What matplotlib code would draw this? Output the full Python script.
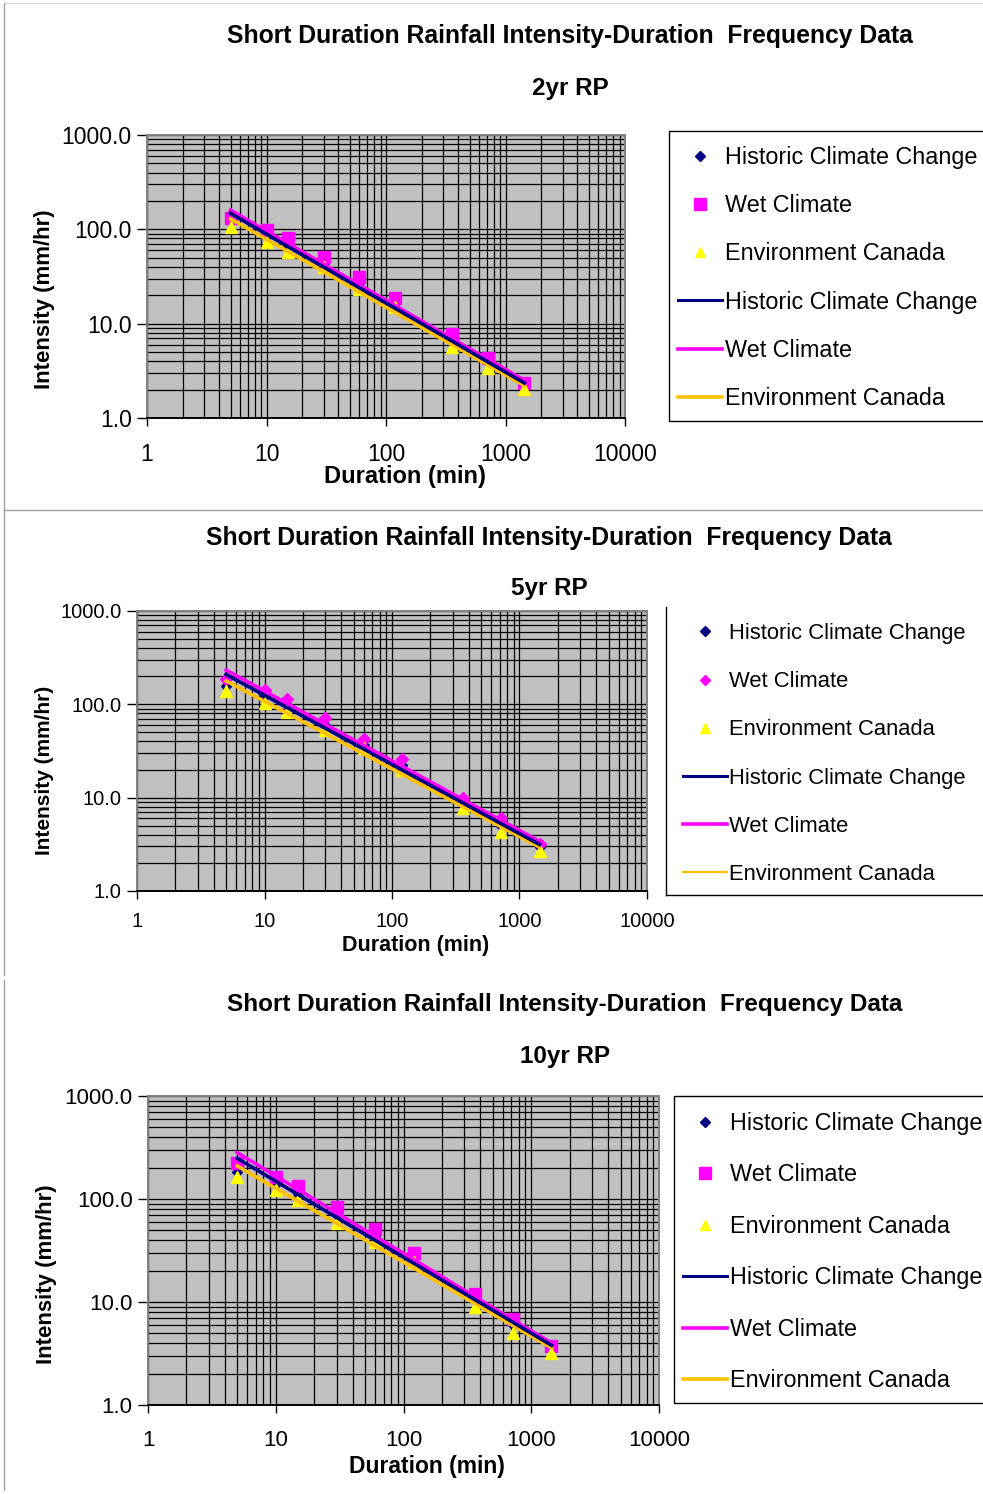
import matplotlib

matplotlib.use("Agg")
import matplotlib.pyplot as plt
from matplotlib.lines import Line2D
from matplotlib.patches import Rectangle
from matplotlib.ticker import FixedLocator, FixedFormatter, LogLocator, NullFormatter

plt.rcParams["font.family"] = ["Liberation Sans", "DejaVu Sans"]

W, H = 983, 1494

durations = [5, 10, 15, 30, 60, 120, 360, 720, 1440]
x_ticks = [1, 10, 100, 1000, 10000]
x_tick_labels = ["1", "10", "100", "1000", "10000"]
y_ticks = [1, 10, 100, 1000]
y_tick_labels = ["1.0", "10.0", "100.0", "1000.0"]

series_names = ["Historic Climate Change", "Wet Climate", "Environment Canada"]
return_periods = ["2yr RP", "5yr RP", "10yr RP"]

# observed points (mm/hr)
hist_2 = [120, 85, 68, 44, 27, 16.5, 6.8, 3.9, 2.2]
wet_2 = [132, 98, 81, 51, 31.5, 18.6, 7.8, 4.3, 2.35]
env_2 = [106, 74, 58, 40, 23.5, 15, 5.7, 3.4, 2.05]

hist_5 = [158, 122, 98, 60, 37, 22.5, 8.5, 5.0, 2.95]
wet_5 = [187, 142, 113, 70.8, 42.5, 25.9, 9.9, 6.0, 3.2]
env_5 = [139, 103, 82, 53, 34, 20, 7.7, 4.3, 2.7]

hist_10 = [184, 140, 112, 70, 44, 27, 10.5, 6.0, 3.5]
wet_10 = [222, 165, 135, 83, 51, 30, 12, 6.8, 3.7]
env_10 = [163, 122, 97, 59, 38, 24.6, 9.0, 5.0, 3.2]

# fitted IDF curves (mm/hr)
hist_2_fit = [148, 89, 66, 39.9, 24, 14.5, 6.5, 3.9, 2.35]
wet_2_fit = [160, 96, 71.4, 42.9, 25.8, 15.5, 6.9, 4.17, 2.5]
env_2_fit = [129, 78.3, 58.6, 35.6, 21.6, 13.1, 5.96, 3.62, 2.2]

hist_5_fit = [209, 125, 92.6, 55.4, 33.2, 19.8, 8.8, 5.25, 3.15]
wet_5_fit = [233, 139, 102.5, 61, 36.4, 21.7, 9.55, 5.7, 3.4]
env_5_fit = [178, 107.7, 80.3, 48.6, 29.4, 17.8, 8.0, 4.86, 2.95]

hist_10_fit = [248, 148.8, 110.3, 66.1, 39.7, 23.8, 10.6, 6.35, 3.8]
wet_10_fit = [282, 167.5, 123.5, 73.3, 43.4, 25.9, 11.3, 6.7, 4.0]
env_10_fit = [209, 127, 95.1, 57.9, 35.1, 21.4, 9.7, 5.9, 3.6]

NAVY = "#000080"
MAGENTA = "#FF00FF"
YELLOW = "#FFFF00"
GOLD = "#FFC000"
TITLE = "Short Duration Rainfall Intensity-Duration  Frequency Data"


def fx(x):
    return x / W


def fy(y):
    return 1 - y / H


def draw_panel(fig, p):
    left, top, right, bottom = p["plot"]
    ax = fig.add_axes([fx(left), fy(bottom), fx(right) - fx(left), fy(top) - fy(bottom)])
    ax.set_facecolor("#C0C0C0")
    ax.set_xscale("log")
    ax.set_yscale("log")
    ax.set_xlim(1, 10000)
    ax.set_ylim(1, 1000)

    ax.xaxis.set_major_locator(FixedLocator(x_ticks))
    ax.xaxis.set_major_formatter(FixedFormatter(x_tick_labels))
    ax.yaxis.set_major_locator(FixedLocator(y_ticks))
    ax.yaxis.set_major_formatter(FixedFormatter(y_tick_labels))
    for axis in (ax.xaxis, ax.yaxis):
        axis.set_minor_locator(LogLocator(base=10, subs=range(2, 10)))
        axis.set_minor_formatter(NullFormatter())
    ax.grid(which="both", color="black", linewidth=0.9)
    ax.set_axisbelow(True)

    ax.tick_params(which="minor", length=0)
    ax.tick_params(axis="x", which="major", direction="out", length=6, width=1,
                   pad=p["xpad"], labelsize=p["tick_size"])
    ax.tick_params(axis="y", which="major", direction="out", length=7, width=1,
                   pad=4, labelsize=p["tick_size"])
    for side, spine in ax.spines.items():
        spine.set_color("#808080")
        spine.set_linewidth(1.4)
    ax.spines["bottom"].set_color("black")

    hist, wet, env = p["points"]
    hist_fit, wet_fit, env_fit = p["fits"]
    wet_marker, wet_ms = p["wet_marker"]

    ax.plot(durations, hist, linestyle="none", marker="D", ms=5.5, color=NAVY, zorder=3)
    ax.plot(durations, wet, linestyle="none", marker=wet_marker, ms=wet_ms,
            color=MAGENTA, zorder=3)
    ax.plot(durations, env, linestyle="none", marker="^", ms=9, color=YELLOW, zorder=3)
    ax.plot(durations, env_fit, color=GOLD, lw=2.6, zorder=4)
    ax.plot(durations, wet_fit, color=MAGENTA, lw=2.6, zorder=4)
    ax.plot(durations, hist_fit, color=NAVY, lw=2.6, zorder=5)

    tx, ty = p["title_xy"]
    fig.text(fx(tx), fy(ty), TITLE, ha="center", va="center",
             fontsize=p["title_size"], fontweight="bold")
    sx, sy = p["sub_xy"]
    fig.text(fx(sx), fy(sy), p["subtitle"], ha="center", va="center",
             fontsize=17.5, fontweight="bold")
    yx, yy = p["ylabel_xy"]
    fig.text(fx(yx), fy(yy), "Intensity (mm/hr)", ha="center", va="center",
             rotation=90, fontsize=p["ylabel_size"], fontweight="bold")
    xx, xy = p["xlabel_xy"]
    fig.text(fx(xx), fy(xy), "Duration (min)", ha="center", va="center",
             fontsize=p["xlabel_size"], fontweight="bold")

    # legend: three marker entries, then three line entries
    handles = [
        Line2D([], [], linestyle="none", marker="D", ms=5, color=NAVY),
        Line2D([], [], linestyle="none", marker=wet_marker, ms=wet_ms - 1, color=MAGENTA),
        Line2D([], [], linestyle="none", marker="^", ms=7, color=YELLOW),
        Line2D([], [], color=NAVY, lw=2.2),
        Line2D([], [], color=MAGENTA, lw=2.6),
        Line2D([], [], color=GOLD, lw=p["env_legend_lw"]),
    ]
    lx, ly = p["legend_xy"]
    fig.legend(handles, series_names * 2, loc="upper left",
               bbox_to_anchor=(fx(lx), fy(ly)), frameon=False,
               borderpad=0, borderaxespad=0, handlelength=p["handle_len"],
               handletextpad=0.1, labelspacing=p["legend_spacing"],
               fontsize=p["legend_size"])

    fl, ft, fb = p["legend_frame"]
    if p["legend_full_frame"]:
        fig.patches.append(Rectangle((fx(fl), fy(fb)), fx(1010) - fx(fl), fy(ft) - fy(fb),
                                     transform=fig.transFigure, fill=False,
                                     edgecolor="black", linewidth=1.0))
    else:
        fig.add_artist(Line2D([fx(fl), fx(fl)], [fy(ft), fy(fb)], color="black", lw=1.0))
        fig.add_artist(Line2D([fx(fl), fx(W)], [fy(fb), fy(fb)], color="black", lw=1.0))


panels = [
    dict(plot=(147, 135, 625, 418), points=(hist_2, wet_2, env_2),
         fits=(hist_2_fit, wet_2_fit, env_2_fit), wet_marker=("s", 9),
         subtitle=return_periods[0], title_xy=(570, 36), sub_xy=(570, 88),
         title_size=17.8, ylabel_xy=(45, 299), ylabel_size=16, xlabel_xy=(405, 477),
         xlabel_size=17, xpad=12, tick_size=16.5,
         legend_xy=(678, 146), legend_size=16.8, legend_spacing=1.08, handle_len=1.9,
         legend_frame=(669, 131, 421), legend_full_frame=True, env_legend_lw=2.6),
    dict(plot=(137, 611, 647, 891), points=(hist_5, wet_5, env_5),
         fits=(hist_5_fit, wet_5_fit, env_5_fit), wet_marker=("D", 6.5),
         subtitle=return_periods[1], title_xy=(549, 538), sub_xy=(549, 588),
         title_size=17.8, ylabel_xy=(45, 770), ylabel_size=15, xlabel_xy=(416, 946),
         xlabel_size=15.5, xpad=9, tick_size=14.5,
         legend_xy=(683, 623), legend_size=15.8, legend_spacing=1.24, handle_len=2.0,
         legend_frame=(666, 607, 895), legend_full_frame=False, env_legend_lw=1.6),
    dict(plot=(148, 1096, 659, 1405), points=(hist_10, wet_10, env_10),
         fits=(hist_10_fit, wet_10_fit, env_10_fit), wet_marker=("s", 9),
         subtitle=return_periods[2], title_xy=(565, 1005), sub_xy=(565, 1057),
         title_size=17.5, ylabel_xy=(47, 1274), ylabel_size=16, xlabel_xy=(427, 1466),
         xlabel_size=16.5, xpad=12, tick_size=16,
         legend_xy=(683, 1112), legend_size=16.8, legend_spacing=1.22, handle_len=1.9,
         legend_frame=(674, 1096, 1403), legend_full_frame=True, env_legend_lw=2.6),
]

fig = plt.figure(figsize=(W / 100, H / 100), dpi=100)
fig.patch.set_facecolor("white")

# outer borders of the stacked chart sheets
fig.add_artist(Line2D([fx(5), fx(W)], [fy(3), fy(3)], color="#D8D8D8", lw=1.0))
fig.add_artist(Line2D([fx(3.5), fx(3.5)], [fy(3), fy(975)], color="#A0A0A0", lw=1.0))
fig.add_artist(Line2D([fx(3.5), fx(3.5)], [fy(980), fy(1490)], color="#A0A0A0", lw=1.0))
fig.add_artist(Line2D([fx(3.5), fx(W)], [fy(510), fy(510)], color="#A0A0A0", lw=1.0))

for p in panels:
    draw_panel(fig, p)

fig.savefig("out.png", dpi=100)
